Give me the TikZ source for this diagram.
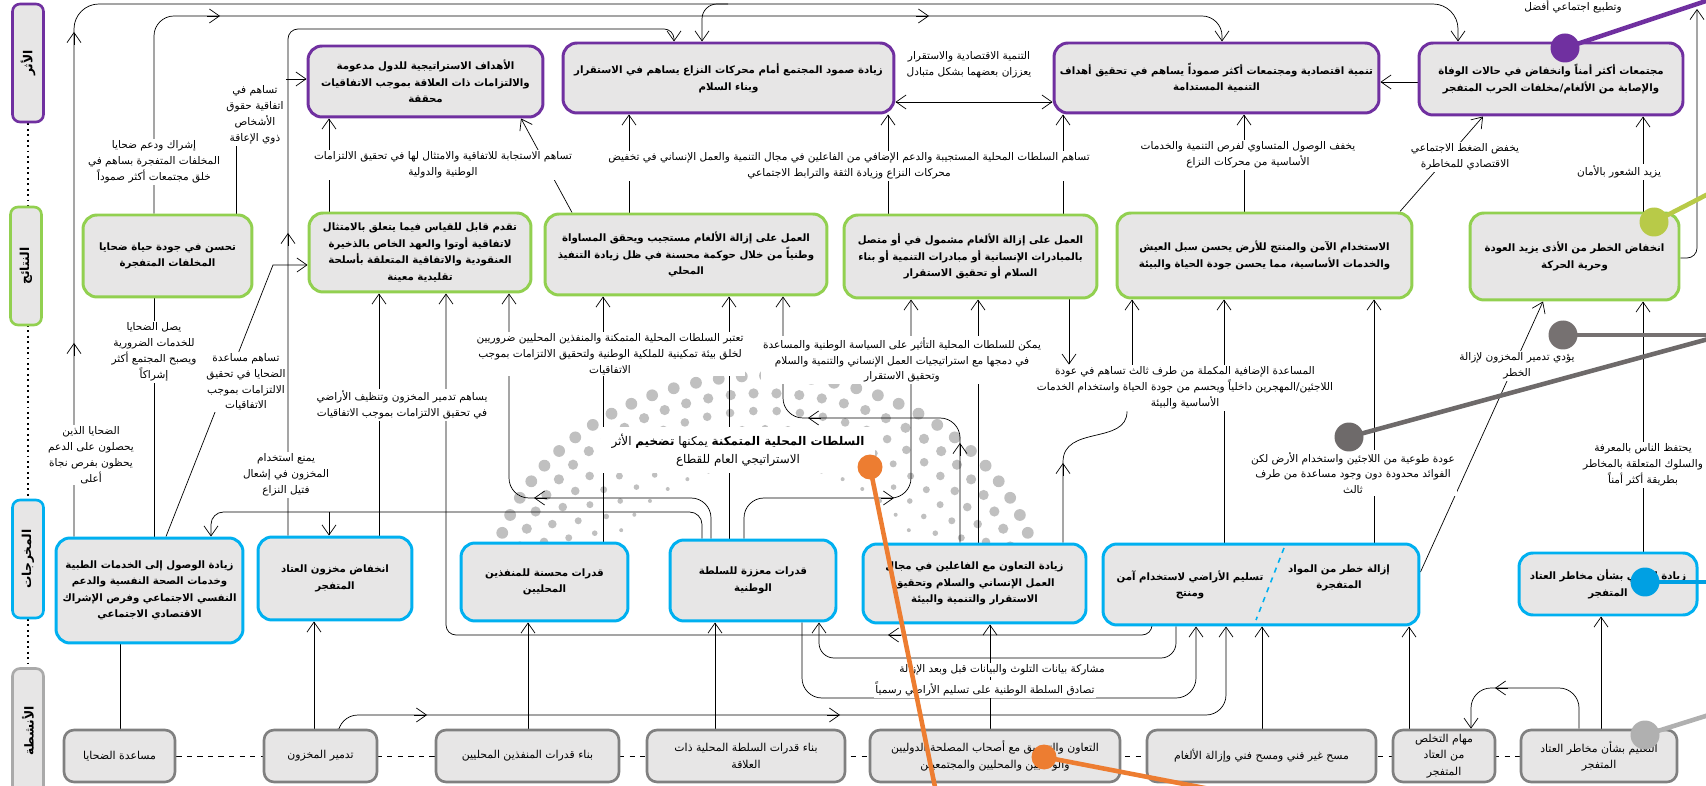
\documentclass[tikz,border=0pt]{standalone}
\usepackage{fontspec}
\usepackage{tikz}
\usetikzlibrary{arrows.meta, positioning}
\newfontfamily\arabicfont[Script=Arabic]{DejaVu Sans}
\TeXXeTstate=1
\definecolor{impactpurple}{RGB}{112,48,160}
\definecolor{outcomegreen}{RGB}{146,208,80}
\definecolor{outputblue}{RGB}{0,176,240}
\definecolor{activitygray}{RGB}{128,128,128}
\definecolor{bandgray}{RGB}{170,170,170}
\definecolor{boxgray}{RGB}{231,230,230}
\definecolor{dotgray}{RGB}{192,192,192}
\definecolor{markgreen}{RGB}{184,202,72}
\definecolor{markgray}{RGB}{118,113,113}
\definecolor{markdark}{RGB}{110,106,106}
\definecolor{markblue}{RGB}{0,160,227}
\definecolor{marklight}{RGB}{176,176,176}
\definecolor{markorange}{RGB}{237,125,49}
\newcommand{\rl}[1]{\beginR#1\endR}
\newcommand{\cellfont}{\arabicfont\bfseries\fontsize{5.8}{9.4}\selectfont}
\newcommand{\taskfont}{\arabicfont\fontsize{6.2}{9.4}\selectfont}
\newcommand{\notefont}{\arabicfont\fontsize{6}{9}\selectfont}
\newcommand{\bandfont}{\arabicfont\bfseries\fontsize{7}{8}\selectfont}
\pgfdeclarelayer{dots}
\pgfdeclarelayer{background}
\pgfsetlayers{dots,background,main}
\tikzset{
x=0.02cm, y=-0.02cm, % one unit is one pixel of the sketch, y runs down
>={Straight Barb[length=2mm,width=2.8mm]}, % open arrow heads
every picture/.style={line width=0.65pt}, % thin links
box/.style={draw, rounded corners=2.8mm, fill=boxgray, line width=1.7pt, align=center, inner sep=2pt, font=\cellfont}, % all result boxes
impact/.style={box, draw=impactpurple},
outcome/.style={box, draw=outcomegreen},
output/.style={box, draw=outputblue},
activity/.style={box, draw=activitygray, line width=1.5pt, rounded corners=2mm, minimum height=1.04cm, font=\taskfont},
band/.style={draw, fill=boxgray, rounded corners=1.5mm, line width=1.5pt, rotate=90, minimum width=2.36cm, minimum height=0.62cm, font=\bandfont}, % level names on the left
note/.style={fill=white, inner sep=1pt, align=center, font=\notefont}, % text on the links
marker/.style={circle, inner sep=0pt, minimum size=0.58cm},
markline/.style={line width=2.6pt},
}

\begin{document}
\begin{tikzpicture}
\useasboundingbox (0,0) rectangle (1706,786);

% levels
\node[band, draw=impactpurple] (bI) at (28,63) {\rl{الأثر}};
\node[band, draw=outcomegreen] (bC) at (26,266) {\rl{النتائج}};
\node[band, draw=outputblue] (bP) at (28,559) {\rl{المخرجات}};
\node[band, draw=bandgray, minimum width=2.5cm] (bA) at (28,731) {\rl{الأنشطة}};

% impact
\node[impact, minimum width=4.70cm, minimum height=1.42cm] (I1) at (425.5,81.5) {\rl{الأهداف الاستراتيجية للدول مدعومة}\\\rl{والالتزامات ذات العلاقة بموجب الاتفاقيات}\\\rl{محققة}};
\node[impact, minimum width=6.62cm, minimum height=1.40cm] (I2) at (728.5,78) {\rl{زيادة صمود المجتمع أمام محركات النزاع يساهم في الاستقرار}\\\rl{وبناء السلام}};
\node[impact, minimum width=6.50cm, minimum height=1.40cm] (I3) at (1216.5,78) {\rl{تنمية اقتصادية ومجتمعات أكثر صموداً يساهم في تحقيق أهداف}\\\rl{التنمية المستدامة}};
\node[impact, minimum width=5.28cm, minimum height=1.44cm] (I4) at (1551,79) {\rl{مجتمعات أكثر أمناً وانخفاض في حالات الوفاة}\\\rl{والإصابة من الألغام/مخلفات الحرب المتفجر}};

% outcomes
\node[outcome, minimum width=3.38cm, minimum height=1.64cm] (O1) at (167.5,256) {\rl{تحسن في جودة حياة ضحايا}\\\rl{المخلفات المتفجرة}};
\node[outcome, minimum width=4.44cm, minimum height=1.58cm] (O2) at (420,252.5) {\rl{تقدم قابل للقياس فيما يتعلق بالامتثال}\\\rl{لاتفاقية أوتوا والعهد الخاص بالذخيرة}\\\rl{العنقودية والاتفاقية المتعلقة بأسلحة}\\\rl{تقليدية معينة}};
\node[outcome, minimum width=5.64cm, minimum height=1.62cm] (O3) at (686,254.5) {\rl{العمل على إزالة الألغام مستجيب ويحقق المساواة}\\\rl{وطنياً من خلال حوكمة محسنة في ظل زيادة التنفيذ}\\\rl{المحلي}};
\node[outcome, minimum width=5.06cm, minimum height=1.66cm] (O4) at (970.5,256.5) {\rl{العمل على إزالة الألغام مشمول في أو متصل}\\\rl{بالمبادرات الإنسانية أو مبادرات التنمية أو بناء}\\\rl{السلام أو تحقيق الاستقرار}};
\node[outcome, minimum width=5.90cm, minimum height=1.70cm] (O5) at (1264.5,255.5) {\rl{الاستخدام الآمن والمنتج للأرض يحسن سبل العيش}\\\rl{والخدمات الأساسية، مما يحسن جودة الحياة والبيئة}};
\node[outcome, minimum width=4.18cm, minimum height=1.74cm] (O6) at (1574.5,256.5) {\rl{انخفاض الخطر من الأذى يزيد العودة}\\\rl{وحرية الحركة}};

% outputs
\node[output, minimum width=3.74cm, minimum height=2.10cm] (P1) at (149.5,590.5) {\rl{زيادة الوصول إلى الخدمات الطبية}\\\rl{وخدمات الصحة النفسية والدعم}\\\rl{النفسي الاجتماعي وفرص الإشراك}\\\rl{الاقتصادي الاجتماعي}};
\node[output, minimum width=3.08cm, minimum height=1.66cm] (P2) at (335,578.5) {\rl{انخفاض مخزون العتاد}\\\rl{المتفجر}};
\node[output, minimum width=3.34cm, minimum height=1.56cm] (P3) at (544.5,582) {\rl{قدرات محسنة للمنفذين}\\\rl{المحليين}};
\node[output, minimum width=3.32cm, minimum height=1.62cm] (P4) at (753,580.5) {\rl{قدرات معززة للسلطة}\\\rl{الوطنية}};
\node[output, minimum width=4.46cm, minimum height=1.58cm] (P5) at (974.5,583.5) {\rl{زيادة التعاون مع الفاعلين في مجال}\\\rl{العمل الإنساني والسلام وتحقيق}\\\rl{الاستقرار والتنمية والبيئة}};
\node[output, minimum width=6.32cm, minimum height=1.62cm] (P6) at (1261,584.5) {};
\node[font=\cellfont, align=center] (P6a) at (1190,585) {\rl{تسليم الأراضي لاستخدام آمن}\\\rl{ومنتج}};
\node[font=\cellfont, align=center] (P6b) at (1339,578) {\rl{إزالة خطر من المواد}\\\rl{المتفجرة}};
\draw[outputblue, dashed, line width=0.9pt] (1284,548) -- (1256,620);
\node[output, minimum width=3.56cm, minimum height=1.24cm] (P7) at (1608,584) {\rl{زيادة الوعي بشأن مخاطر العتاد}\\\rl{المتفجر}};

% activities
\node[activity, minimum width=2.22cm] (A1) at (119.5,756) {\rl{مساعدة الضحايا}};
\node[activity, minimum width=2.26cm] (A2) at (320.5,756) {\rl{تدمير المخزون}};
\node[activity, minimum width=3.66cm] (A3) at (527.5,756) {\rl{بناء قدرات المنفذين المحليين}};
\node[activity, minimum width=3.96cm] (A4) at (746,756) {\rl{بناء قدرات السلطة المحلية ذات}\\\rl{العلاقة}};
\node[activity, minimum width=5.00cm] (A5) at (995,756) {\rl{التعاون والتنسيق مع أصحاب المصلحة الدوليين}\\\rl{والوطنيين والمحليين والمجتمعيين}};
\node[activity, minimum width=4.58cm] (A6) at (1261.5,756) {\rl{مسح غير فني ومسح فني وإزالة الألغام}};
\node[activity, minimum width=2.04cm] (A7) at (1444,756) {\rl{مهام التخلص}\\\rl{من العتاد}\\\rl{المتفجر}};
\node[activity, minimum width=3.12cm] (A8) at (1599,756) {\rl{التعليم بشأن مخاطر العتاد}\\\rl{المتفجر}};

% notes on the links
\node[note] (l1) at (91,455) {\rl{الضحايا الذين}\\\rl{يحصلون على الدعم}\\\rl{يحظون بفرص نجاة}\\\rl{أعلى}};
\node[note] (l2) at (154,162) {\rl{إشراك ودعم ضحايا}\\\rl{المخلفات المتفجرة بساهم في}\\\rl{خلق مجتمعات أكثر صموداً}};
\node[note] (l3) at (255,115) {\rl{تساهم في}\\\rl{اتفاقية حقوق}\\\rl{الأشخاص}\\\rl{ذوي الإعاقة}};
\node[note] (l4) at (443,165) {\rl{تساهم الاستجابة للاتفاقية والامتثال لها في تحقيق الالتزامات}\\\rl{الوطنية والدولية}};
\node[note] (l5) at (849,166) {\rl{تساهم السلطات المحلية المستجيبة والدعم الإضافي من الفاعلين في مجال التنمية والعمل الإنساني في تخفيض}\\\rl{محركات النزاع وزيادة الثقة والترابط الاجتماعي}};
\node[note] (l6) at (969,65) {\rl{التنمية الاقتصادية والاستقرار}\\\rl{يعززان بعضهما بشكل متبادل}};
\node[note] (l7) at (1248,155) {\rl{يخفف الوصول المتساوي لفرص التنمية والخدمات}\\\rl{الأساسية من محركات النزاع}};
\node[note] (l8) at (1465,157) {\rl{يخفض الضغط الاجتماعي}\\\rl{الاقتصادي للمخاطرة}};
\node[note] (l9) at (1619,172) {\rl{يزيد الشعور بالأمان}};
\node[note] (l10) at (1573,7) {\rl{وتطبيع اجتماعي أفضل}};
\node[note] (l11) at (154,352) {\rl{يصل الضحايا}\\\rl{للخدمات الضرورية}\\\rl{ويصبح المجتمع أكثر}\\\rl{إشراكاً}};
\node[note] (l12) at (246,382) {\rl{تساهم مساعدة}\\\rl{الضحايا في تحقيق}\\\rl{الالتزامات بموجب}\\\rl{الاتفاقيات}};
\node[note] (l13) at (402,405) {\rl{يساهم تدمير المخزون وتنظيف الأراضي}\\\rl{في تحقيق الالتزامات بموجب الاتفاقيات}};
\node[note] (l14) at (286,475) {\rl{يمنع استخدام}\\\rl{المخزون في إشعال}\\\rl{فتيل النزاع}};
\node[note] (l15) at (610,354) {\rl{تعتبر السلطات المحلية المتمكنة والمنفذين المحليين ضروريين}\\\rl{لخلق بيئة تمكينية للملكية الوطنية ولتحقيق الالتزامات بموجب}\\\rl{الاتفاقيات}};
\node[note] (l16) at (902,360) {\rl{يمكن للسلطات المحلية التأثير على السياسة الوطنية والمساعدة}\\\rl{في دمجها مع استراتيجيات العمل الإنساني والتنمية والسلام}\\\rl{وتحقيق الاستقرار}};
\node[note, inner xsep=6pt, inner ysep=4pt, font=\arabicfont\fontsize{6.8}{10}\selectfont] (l17) at (738,450) {\rl{\textbf{السلطات المحلية المتمكنة} يمكنها \textbf{تضخيم} الأثر}\\\rl{الاستراتيجي العام للقطاع}};
\node[note] (l18) at (1185,388) {\rl{المساعدة الإضافية المكملة من طرف ثالث تساهم في عودة}\\\rl{اللاجئين/المهجرين داخلياً ويحسم من جودة الحياة واستخدام الخدمات}\\\rl{الأساسية والبيئة}};
\node[note] (l19) at (1517,366) {\rl{يؤدي تدمير المخزون لإزالة}\\\rl{الخطر}};
\node[note] (l20) at (1353,473) {\rl{عودة طوعية من اللاجئين واستخدام الأرض لكن}\\\rl{الفوائد محدودة دون وجود مساعدة من طرف}\\\rl{ثالث}};
\node[note] (l21) at (1643,465) {\rl{يحتفظ الناس بالمعرفة}\\\rl{والسلوك المتعلقة بالمخاطر}\\\rl{بطريقة أكثر أمناً}};
\node[note] (l22) at (1002,670) {\rl{مشاركة بيانات التلوث والبيانات قبل وبعد الإزالة}};
\node[note] (l23) at (985,689) {\rl{تصادق السلطة الوطنية على تسليم الأراضي رسمياً}};

% halftone arch behind the middle, big dots outside
\begin{pgfonlayer}{dots}
\foreach \k/\s in {0.62/2,0.7/2.8,0.78/3.5,0.86/4.3,0.94/5.1,1.02/5.9}{
  \pgfmathtruncatemacro{\n}{31*\k}
  \foreach \i in {0,...,\n}{
    \pgfmathsetmacro{\a}{15+150*(\i+0.5*mod(round(\k*12.5),2))/\n}
    \fill[dotgray] ({765+270*\k*cos(\a)},{600-220*\k*sin(\a)}) circle (\s);
  }
}
\end{pgfonlayer}

\begin{pgfonlayer}{background}
\draw[dotted, line width=1.1pt] (bI) -- (bA);
\draw[dashed] (A1) -- (A8);
% to impact
\draw[->, rounded corners=5mm] (P1.north -| 74,0) -- (74,4) -- (1458,4) -- (I4.north -| 1458,0);
\draw[->] (74,356) -- (74,343);
\draw[->] (74,45) -- (74,32);
\coordinate (tb) at (728,4);
\draw[->, rounded corners=3mm] (tb) -- (702,4) -- (I2.north -| 702,0);
\draw[->, rounded corners=4mm] (O1.north -| 154,0) -- (154,16) -- (1222,16) -- (I3.north -| 1222,0);
\draw[->] (207,16) -- (220,16);
\draw[->] (916,16) -- (929,16);
\draw[->, rounded corners=2mm] (P2.north -| 288,0) -- (288,29) -- (674,29) -- (I2.north -| 674,0);
\draw[->] (288,246) -- (288,233);
\draw (O1.north -| 236,0) -- (l3.south -| 236,0);
\draw[->] (l3.east |- 0,79) -- (I1.west |- 0,79);
\draw[->] (O2.north -| 329,0) -- (I1.south -| 329,0);
\draw[->] (O3.north -| 572,0) -- (I1.south -| 521,0);
\draw[->] (O3.north -| 629,0) -- (I2.south -| 629,0);
\draw[->] (O4.north -| 888,0) -- (I2.south -| 888,0);
\draw[->] (O4.north -| 1063,0) -- (I3.south -| 1063,0);
\draw[<->] (I2.east |- 0,102) -- (I3.west |- 0,102);
\draw[->] (I4.west |- 0,82) -- (I3.east |- 0,82);
\draw[->] (O5.north -| 1244,0) -- (I3.south -| 1244,0);
\draw[->] (O5.north -| 1400,0) -- (I4.south -| 1483,0);
\draw[->] (O6.north -| 1643,0) -- (I4.south -| 1643,0);
\coordinate (topR) at (1697,9);
\draw[->, rounded corners=2mm] (O6.east |- 0,258) -- (1697,258) -- (topR);
% to outcomes
\draw (P1.north -| 154,0) -- (O1.south -| 154,0);
\draw[->] (P1.north -| 166,0) -- (273,265) -- (O2.west |- 0,265);
\draw[->] (P2.north -| 379,0) -- (O2.south -| 379,0);
\draw[->, rounded corners=2mm] (P6.south -| 1152,0) -- (1152,635) -- (446,635) -- (O2.south -| 446,0);
\draw[->] (901,635) -- (888,635);
\draw[->] (P3.north -| 603,0) -- (O3.south -| 603,0);
\draw[->] (P4.north -| 729,0) -- (O3.south -| 729,0);
\draw[->, rounded corners=4mm] (P4.north -| 711,0) -- (711,498) -- (509,498) -- (O2.south -| 509,0);
\draw[->] (547,498) -- (534,498);
\draw[->, rounded corners=2.5mm] (P4.north -| 702,0) -- (702,512) -- (211,512) -- (P1.north -| 211,0);
\coordinate (j1) at (329,512);
\draw[->] (j1) -- (P2.north -| 329,0);
\draw[->, rounded corners=4mm] (P4.north -| 744,0) -- (744,498) -- (911,498) -- (O4.south -| 911,0);
\draw[->] (881,498) -- (894,498);
\draw[->, rounded corners=4mm] (P5.north -| 960,0) -- (960,418) -- (783,418) -- (O3.south -| 783,0);
\draw[->] (960,456) -- (960,443);
\draw[->] (821,418) -- (808,418);
\draw[->] (P5.north -| 978,0) -- (O4.south -| 978,0);
\draw[->] (O4.south -| 1069,0) -- (l18.north -| 1069,0);
\draw (P5.north -| 1063,0) -- (1063,462) .. controls (1063,425) and (1127,445) .. (l18.south -| 1127,0);
\draw[->] (1063,476) -- (1063,463);
\draw[->] (l18.north -| 1132,0) -- (O5.south -| 1132,0);
\draw[->] (P6.north -| 1224,0) -- (O5.south -| 1224,0);
\draw[->] (P6.north -| 1374,0) -- (O5.south -| 1374,0);
\draw[->] (P6.east |- 0,572) -- (O6.south -| 1543,0);
\draw[->] (P7.north -| 1643,0) -- (O6.south -| 1643,0);
% to outputs
\draw (A1.north -| 120,0) -- (P1.south -| 120,0);
\draw[->] (A2.north -| 314,0) -- (P2.south -| 314,0);
\draw[->, rounded corners=4mm] (A2.north -| 338,0) -- (338,715) -- (1226,715) -- (P6.south -| 1226,0);
\draw[->] (414,715) -- (427,715);
\draw[->] (827,715) -- (840,715);
\draw[->] (A3.north -| 528,0) -- (P3.south -| 528,0);
\draw[->] (A4.north -| 715,0) -- (P4.south -| 715,0);
\draw[->, rounded corners=3mm] (P6.south -| 1176,0) -- (1176,658) -- (819,658) -- (P4.south -| 819,0);
\draw[->, rounded corners=4mm] (P4.south -| 802,0) -- (802,698) -- (1196,698) -- (P6.south -| 1196,0);
\draw[->] (A5.north -| 990,0) -- (P5.south -| 990,0);
\draw[->] (A6.north -| 1262,0) -- (P6.south -| 1262,0);
\draw[->] (A7.north -| 1409,0) -- (P6.south -| 1409,0);
\draw[->] (A8.north -| 1601,0) -- (P7.south -| 1601,0);
\draw[->, rounded corners=4mm] (A8.north -| 1579,0) -- (1579,688) -- (1471,688) -- (A7.north -| 1471,0);
\draw[->] (1508,688) -- (1495,688);
\end{pgfonlayer}

% coloured markers
\node[marker, fill=impactpurple] (m1) at (1565,48) {};
\node[marker, fill=markgreen] (m2) at (1654,222) {};
\node[marker, fill=markgray] (m3) at (1563,335) {};
\node[marker, fill=markdark] (m4) at (1349,437) {};
\node[marker, fill=markblue] (m5) at (1645,582) {};
\node[marker, fill=marklight] (m6) at (1645,735) {};
\node[marker, fill=markorange, minimum size=0.5cm] (m7) at (870,467) {};
\node[marker, fill=markorange, minimum size=0.5cm] (m8) at (1044,757) {};
\coordinate (m1e) at (1712,-1);
\coordinate (m2e) at (1712,192);
\coordinate (m3e) at (1712,335);
\coordinate (m4e) at (1712,338);
\coordinate (m5e) at (1712,582);
\coordinate (m6e) at (1712,714);
\coordinate (m7e) at (936,792);
\coordinate (m8e) at (1215,790);
\draw[markline, impactpurple] (m1.center) -- (m1e);
\draw[markline, markgreen] (m2.center) -- (m2e);
\draw[markline, markgray] (m3.center) -- (m3e);
\draw[markline, markdark] (m4.center) -- (m4e);
\draw[markline, markblue] (m5.center) -- (m5e);
\draw[markline, marklight] (m6.center) -- (m6e);
\draw[markline, markorange] (m7.center) -- (m7e);
\draw[markline, markorange] (m8.center) -- (m8e);
\end{tikzpicture}
\end{document}
